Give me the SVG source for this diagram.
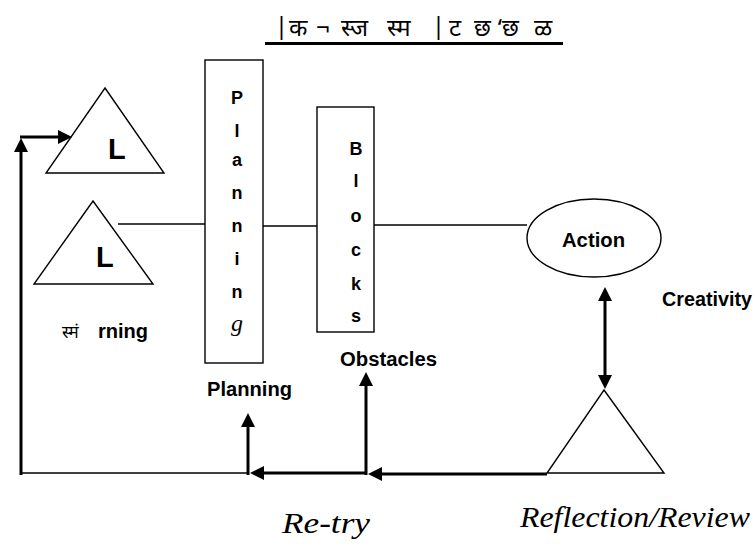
<svg xmlns="http://www.w3.org/2000/svg" width="753" height="550" viewBox="0 0 753 550">
  <style>
    .shape { fill: #fff; stroke: #000; stroke-width: 1.4; }
    .thin { fill: none; stroke: #000; stroke-width: 1.3; }
    .thick { fill: none; stroke: #000; stroke-width: 3; }
    .lbl { font-family: "Liberation Sans Narrow", "Liberation Sans", Arial, sans-serif; font-weight: bold; fill: #000; }
    .box { font-family: "Liberation Sans", Arial, sans-serif; font-weight: bold; font-size: 18px; fill: #000; text-anchor: middle; }
    .big { font-family: "Liberation Sans", Arial, sans-serif; font-weight: bold; font-size: 29px; fill: #000; }
    .script { font-family: "Liberation Serif", "Times New Roman", serif; font-style: italic; fill: #000; }
    .deva { font-family: "Noto Sans Devanagari", "Lohit Devanagari", "Noto Sans", "DejaVu Sans", sans-serif; fill: #000; }
  </style>
  <defs>
    <marker id="head" viewBox="0 0 14 14" markerWidth="14" markerHeight="14" markerUnits="userSpaceOnUse" refX="4" refY="7" orient="auto-start-reverse">
      <path d="M0,0 L14,7 L0,14 z" fill="#000"/>
    </marker>
  </defs>

  <!-- heading -->
  <g id="title">
    <text class="deva" font-size="24" y="36"><tspan x="275">|</tspan><tspan x="289">क</tspan><tspan x="316">¬</tspan><tspan x="341">स्ज</tspan><tspan x="387">स्म</tspan><tspan x="432">|</tspan><tspan x="449">ट</tspan><tspan x="474">छ</tspan><tspan x="496">‘</tspan><tspan x="502">छ</tspan><tspan x="534">ळ</tspan></text>
    <rect x="265" y="42" width="298" height="3" fill="#000"/>
  </g>

  <!-- learning triangles -->
  <g id="learn-top">
    <polygon class="shape" points="105,88 164,173 46,173"/>
    <text class="big" x="108" y="159">L</text>
  </g>
  <g id="learn-bottom">
    <polygon class="shape" points="93,201 153,284 34,284"/>
    <text class="big" x="96" y="267">L</text>
  </g>
  <g id="learning-label">
    <text class="deva" font-size="17" x="62" y="338">स्मं</text>
    <text class="lbl" font-size="20" x="98" y="338" textLength="50" lengthAdjust="spacingAndGlyphs">rning</text>
  </g>

  <!-- planning column -->
  <g id="planning">
    <rect class="shape" x="205" y="60" width="58" height="303"/>
    <text class="box" x="237" y="104">P</text>
    <text class="box" x="237" y="137">l</text>
    <text class="box" x="237" y="166">a</text>
    <text class="box" x="237" y="199">n</text>
    <text class="box" x="237" y="232">n</text>
    <text class="box" x="237" y="265">i</text>
    <text class="box" x="237" y="298">n</text>
    <text class="script" font-size="24" x="237" y="331" text-anchor="middle">g</text>
    <text class="lbl" font-size="20" x="207" y="396" textLength="85" lengthAdjust="spacingAndGlyphs">Planning</text>
  </g>

  <!-- blocks column -->
  <g id="blocks">
    <rect class="shape" x="317" y="107" width="57" height="225"/>
    <text class="box" x="356" y="155">B</text>
    <text class="box" x="356" y="187">l</text>
    <text class="box" x="356" y="222">o</text>
    <text class="box" x="356" y="256">c</text>
    <text class="box" x="356" y="290">k</text>
    <text class="box" x="356" y="322">s</text>
    <text class="lbl" font-size="20" x="340" y="366" textLength="97" lengthAdjust="spacingAndGlyphs">Obstacles</text>
  </g>

  <!-- action -->
  <g id="action">
    <ellipse class="shape" cx="594" cy="238" rx="67" ry="39"/>
    <text class="lbl" font-size="20" x="562" y="247" textLength="63" lengthAdjust="spacingAndGlyphs">Action</text>
  </g>
  <g id="creativity">
    <text class="lbl" font-size="20" x="662" y="306" textLength="90" lengthAdjust="spacingAndGlyphs">Creativity</text>
  </g>

  <!-- reflection -->
  <g id="reflection">
    <polygon class="shape" points="604,390 664,473 547,473"/>
    <text class="script" font-size="30" x="520" y="527" textLength="230" lengthAdjust="spacingAndGlyphs">Reflection/Review</text>
  </g>
  <g id="retry">
    <text class="script" font-size="30" x="282" y="533" textLength="88" lengthAdjust="spacingAndGlyphs">Re-try</text>
  </g>

  <!-- connectors -->
  <g id="connectors">
    <line class="thin" x1="118" y1="224" x2="205" y2="224"/>
    <line class="thin" x1="263" y1="226" x2="317" y2="226"/>
    <line class="thin" x1="374" y1="225" x2="527" y2="225"/>
    <line class="thin" x1="21" y1="473" x2="248" y2="473" stroke-width="2"/>
    <line class="thick" x1="21" y1="475" x2="21" y2="148" marker-end="url(#head)"/>
    <line class="thick" x1="20" y1="137" x2="62" y2="137" marker-end="url(#head)"/>
    <line class="thick" x1="248" y1="475" x2="248" y2="423" marker-end="url(#head)"/>
    <line class="thick" x1="366" y1="473" x2="260" y2="473" marker-end="url(#head)"/>
    <line class="thick" x1="366" y1="475" x2="366" y2="382" marker-end="url(#head)"/>
    <line class="thick" x1="547" y1="474" x2="378" y2="474" marker-end="url(#head)"/>
    <line class="thick" x1="605" y1="297" x2="605" y2="379" marker-start="url(#head)" marker-end="url(#head)"/>
  </g>
</svg>
